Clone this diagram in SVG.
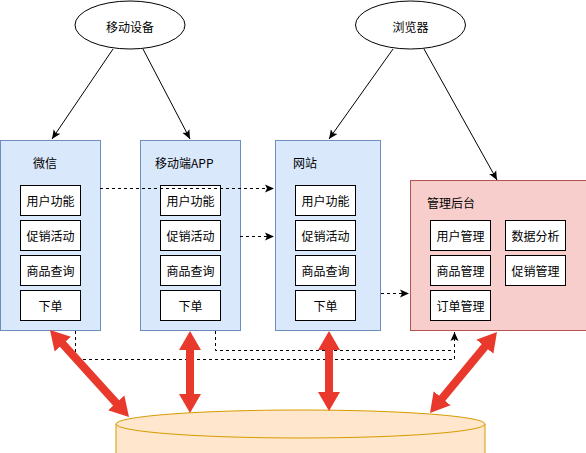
<svg xmlns="http://www.w3.org/2000/svg" width="586" height="453" viewBox="0 0 586 453">
<style>
text{font-family:"Noto Sans CJK SC","Liberation Sans",sans-serif;font-size:12px;fill:#000;}
.c{text-anchor:middle;dominant-baseline:central;}
.l{dominant-baseline:central;}
.blue{fill:#dae8fc;stroke:#6c8ebf;stroke-width:1;}
.pink{fill:#f8cecc;stroke:#b85450;stroke-width:1;}
.item{fill:#fff;stroke:#000;stroke-width:1;}
.ell{fill:#fff;stroke:#000;stroke-width:1;}
.arr{fill:none;stroke:#000;stroke-width:1;marker-end:url(#ah);}
.dash{fill:none;stroke:#000;stroke-width:1;stroke-dasharray:3 3;}
.red{stroke:#e8392c;stroke-width:8;fill:none;marker-start:url(#rh);marker-end:url(#rh);}
</style>
<defs>
<marker id="ah" markerUnits="userSpaceOnUse" viewBox="0 -5 10 10" markerWidth="10" markerHeight="10" refX="9" refY="0" orient="auto">
<path d="M0,-4 L9,0 L0,4 L2,0 Z" fill="#000"/>
</marker>
<marker id="rh" markerUnits="userSpaceOnUse" viewBox="0 -12 20 24" markerWidth="20" markerHeight="24" refX="1" refY="0" orient="auto-start-reverse">
<path d="M0,-11 L19,0 L0,11 Z" fill="#e8392c"/>
</marker>
</defs>

<g id="db">
<path d="M116,424 L116,470 A184.5,14 0 0 0 485,470 L485,424 Z" fill="#ffe6cc" stroke="#d79b00" stroke-width="1"/>
<ellipse cx="300.5" cy="424" rx="184.5" ry="14" fill="#ffe6cc" stroke="#d79b00" stroke-width="1"/>
</g>

<g id="mobile">
<ellipse class="ell" cx="130" cy="25" rx="55" ry="24"/>
<text class="c" x="130" y="26">移动设备</text>
</g>
<g id="browser">
<ellipse class="ell" cx="410.5" cy="25" rx="55" ry="24"/>
<text class="c" x="410.5" y="26">浏览器</text>
</g>

<g id="wechat">
<rect class="blue" x="0.5" y="140.5" width="100" height="190"/>
<text class="l" x="33" y="162">微信</text>
<rect class="item" x="20.5" y="185.5" width="60" height="30"/><text class="c" x="50.5" y="200.5">用户功能</text>
<rect class="item" x="20.5" y="220.5" width="60" height="30"/><text class="c" x="50.5" y="235.5">促销活动</text>
<rect class="item" x="20.5" y="255.5" width="60" height="30"/><text class="c" x="50.5" y="270.5">商品查询</text>
<rect class="item" x="20.5" y="290.5" width="60" height="30"/><text class="c" x="50.5" y="305.5">下单</text>
</g>

<g id="app">
<rect class="blue" x="140.5" y="140.5" width="100" height="190"/>
<text class="l" x="155" y="162">移动端APP</text>
<rect class="item" x="160.5" y="185.5" width="60" height="30"/><text class="c" x="190.5" y="200.5">用户功能</text>
<rect class="item" x="160.5" y="220.5" width="60" height="30"/><text class="c" x="190.5" y="235.5">促销活动</text>
<rect class="item" x="160.5" y="255.5" width="60" height="30"/><text class="c" x="190.5" y="270.5">商品查询</text>
<rect class="item" x="160.5" y="290.5" width="60" height="30"/><text class="c" x="190.5" y="305.5">下单</text>
</g>

<g id="website">
<rect class="blue" x="275.5" y="140.5" width="105" height="190"/>
<text class="l" x="293" y="162">网站</text>
<rect class="item" x="295.5" y="185.5" width="60" height="30"/><text class="c" x="325.5" y="200.5">用户功能</text>
<rect class="item" x="295.5" y="220.5" width="60" height="30"/><text class="c" x="325.5" y="235.5">促销活动</text>
<rect class="item" x="295.5" y="255.5" width="60" height="30"/><text class="c" x="325.5" y="270.5">商品查询</text>
<rect class="item" x="295.5" y="290.5" width="60" height="30"/><text class="c" x="325.5" y="305.5">下单</text>
</g>

<g id="admin">
<rect class="pink" x="410.5" y="180.5" width="176" height="150"/>
<text class="l" x="427" y="202">管理后台</text>
<rect class="item" x="430.5" y="220.5" width="60" height="30"/><text class="c" x="460.5" y="235.5">用户管理</text>
<rect class="item" x="430.5" y="255.5" width="60" height="30"/><text class="c" x="460.5" y="270.5">商品管理</text>
<rect class="item" x="430.5" y="290.5" width="60" height="30"/><text class="c" x="460.5" y="305.5">订单管理</text>
<rect class="item" x="505.5" y="220.5" width="60" height="30"/><text class="c" x="535.5" y="235.5">数据分析</text>
<rect class="item" x="505.5" y="255.5" width="60" height="30"/><text class="c" x="535.5" y="270.5">促销管理</text>
</g>

<g id="connectors">
<line class="arr" x1="113" y1="49" x2="52" y2="139"/>
<line class="arr" x1="143" y1="49" x2="190" y2="139"/>
<line class="arr" x1="393" y1="49" x2="329" y2="139"/>
<line class="arr" x1="424" y1="49" x2="497" y2="180"/>
<path class="dash" d="M100,188.5 L274,188.5" marker-end="url(#ah)"/>
<path class="dash" d="M240,236.5 L274,236.5" marker-end="url(#ah)"/>
<path class="dash" d="M381,293.5 L409,293.5" marker-end="url(#ah)"/>
<path class="dash" d="M75.5,331 L75.5,359.5 L454.5,359.5 L454.5,332" marker-end="url(#ah)"/>
<path class="dash" d="M215.5,331 L215.5,350.5 L454.5,350.5"/>
<line class="red" x1="62.1" y1="343.3" x2="116.9" y2="403.7"/>
<line class="red" x1="190" y1="349" x2="190" y2="395"/>
<line class="red" x1="329" y1="349" x2="329" y2="393"/>
<line class="red" x1="485.5" y1="345.9" x2="441.5" y2="399.1"/>
</g>
</svg>
